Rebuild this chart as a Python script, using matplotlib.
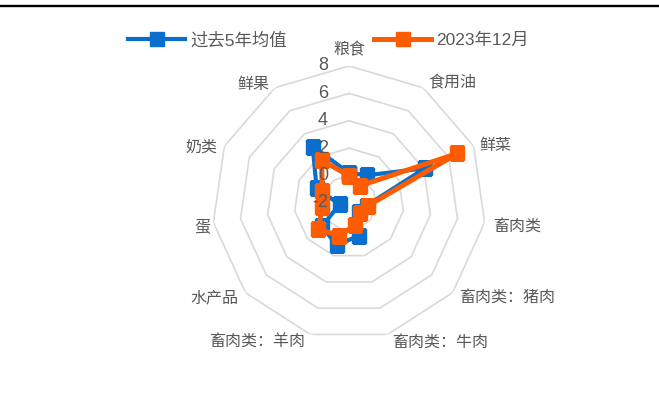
import numpy as np
import matplotlib
matplotlib.use("Agg")
import matplotlib.pyplot as plt
from matplotlib.lines import Line2D

plt.rcParams['font.family'] = ['Liberation Sans', 'Noto Sans CJK SC', 'DejaVu Sans']

categories = ['粮食', '食用油', '鲜菜', '畜肉类', '畜肉类：猪肉', '畜肉类：牛肉',
              '畜肉类：羊肉', '水产品', '蛋', '奶类', '鲜果']
avg_5y = [0.2, 0.4, 4.1, -0.7, -1.0, 0.5, 1.2, 0.6, -1.3, 0.6, 2.9]
dec_2023 = [0.0, -0.5, 6.7, -0.6, -0.9, -0.35, 0.5, 0.95, 0.0, 0.15, 1.7]
ring_values = [-2, 0, 2, 4, 6, 8]

BLUE = '#0A6FCC'
ORANGE = '#FF5B00'
GREY_TXT = '#595959'

n = len(categories)
theta = np.arange(n) * 2 * np.pi / n
theta_c = np.append(theta, theta[0])

fig = plt.figure(figsize=(6.59, 3.96), dpi=100)
ax = fig.add_axes([0.3217, 0.1414, 0.4158, 0.692], projection='polar')
ax.set_theta_zero_location('N')
ax.set_theta_direction(-1)
ax.set_ylim(-2, 8)
ax.grid(False)
ax.spines['polar'].set_visible(False)
ax.set_xticks([])
ax.set_yticks([])
ax.patch.set_alpha(0)

# polygon grid rings
for v in ring_values[1:]:
    ax.plot(theta_c, [v] * (n + 1), color='#d9d9d9', lw=1.2, zorder=1)

# radial value labels along the top spoke
for v in ring_values:
    ax.annotate(str(v), (0, v), xytext=(-21, 0), textcoords='offset pixels',
                ha='right', va='center', fontsize=13, color=GREY_TXT, zorder=5)

# category labels around the outside
offsets = [(0, 8), (5, 5), (6, 1), (8, -4), (7, -5), (4, -8),
           (-5, -8), (-7, -5), (-3, -4), (-7, -1), (-5, 3)]
for t, lab, (dx, dy) in zip(theta, categories, offsets):
    s = np.sin(t)
    ha = 'center' if abs(s) < 0.1 else ('left' if s > 0 else 'right')
    va = 'bottom' if abs(s) < 0.1 else 'center'
    ax.annotate(lab, (t, 8), xytext=(dx, dy), textcoords='offset pixels',
                ha=ha, va=va, fontsize=11.5, color=GREY_TXT,
                family=['Noto Sans CJK SC'])

l1, = ax.plot(theta_c, avg_5y + avg_5y[:1], color=BLUE, lw=3.0, marker='s',
              ms=9.6, solid_joinstyle='round', zorder=3, label='过去5年均值')
l2, = ax.plot(theta_c, dec_2023 + dec_2023[:1], color=ORANGE, lw=3.6, marker='s',
              ms=9.8, solid_joinstyle='round', zorder=4, label='2023年12月')

fig.legend(handles=[l1, l2], loc='center', bbox_to_anchor=(0.4985, 0.899),
           ncol=2, frameon=False, fontsize=12.5, handlelength=3.3,
           columnspacing=5.0, handletextpad=0.3, labelcolor=GREY_TXT)

# heavy rule across the top
fig.add_artist(Line2D([0, 1], [1 - 6.2 / 396] * 2, color='black', lw=1.7,
                      transform=fig.transFigure))

fig.savefig('out.png', dpi=100)
